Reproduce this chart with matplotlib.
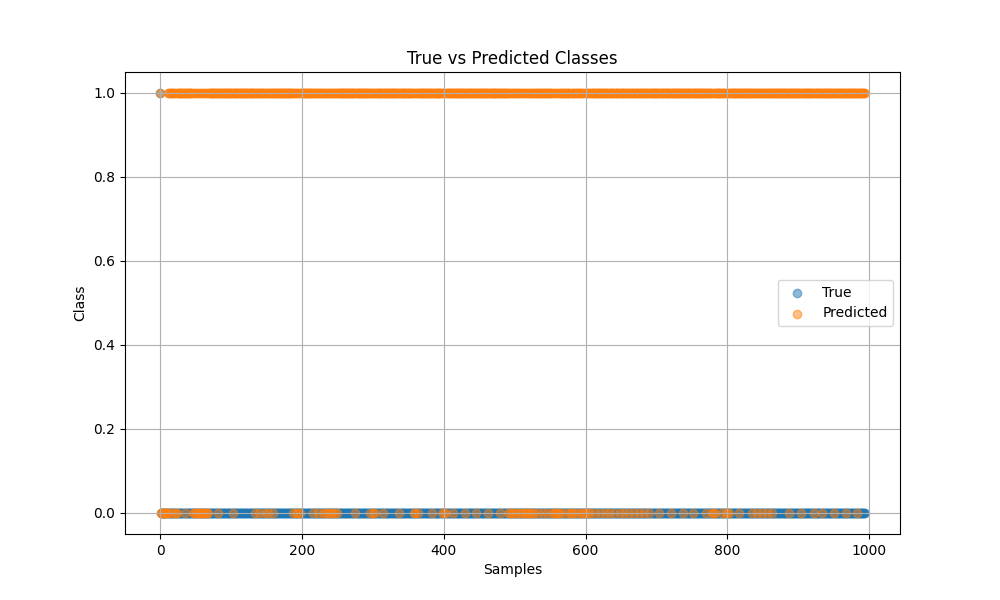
import numpy as np
import matplotlib
matplotlib.use("Agg")
import matplotlib.pyplot as plt

n_samples = 995
true_one_indices = [0]
pred_zero_indices = [1, 2, 3, 4, 5, 6, 7, 8, 9, 10, 14, 19, 22, 24, 35, 46, 48, 50, 52, 54, 56,
                     58, 60, 62, 64, 66, 68, 82, 103, 134, 140, 148, 152, 159, 188, 191, 194,
                     197, 215, 222, 230, 233, 236, 240, 243, 246, 249, 275, 296, 300, 303, 314,
                     337, 358, 360, 363, 383, 398, 400, 403, 413, 430, 446, 462, 479, 490, 496,
                     502, 507, 493, 500, 510, 513, 516, 519, 521, 524, 527, 533, 540, 546, 553,
                     556, 558, 560, 563, 566, 573, 578, 580, 583, 586, 592, 596, 598, 600, 603,
                     606, 613, 620, 627, 633, 640, 648, 655, 661, 668, 675, 683, 690, 704, 721,
                     737, 751, 770, 778, 780, 783, 792, 798, 800, 803, 817, 835, 842, 849, 856,
                     863, 887, 904, 923, 934, 951, 968, 983]

samples = np.arange(n_samples)
y_true = np.zeros(n_samples)
y_true[true_one_indices] = 1
y_pred = np.ones(n_samples)
y_pred[pred_zero_indices] = 0

fig, ax = plt.subplots(figsize=(10, 6), dpi=100)
ax.scatter(samples, y_true, alpha=0.5, label="True")
ax.scatter(samples, y_pred, alpha=0.5, label="Predicted")
ax.set_title("True vs Predicted Classes")
ax.set_xlabel("Samples")
ax.set_ylabel("Class")
ax.legend()
ax.grid(True)
fig.savefig("out.png")
